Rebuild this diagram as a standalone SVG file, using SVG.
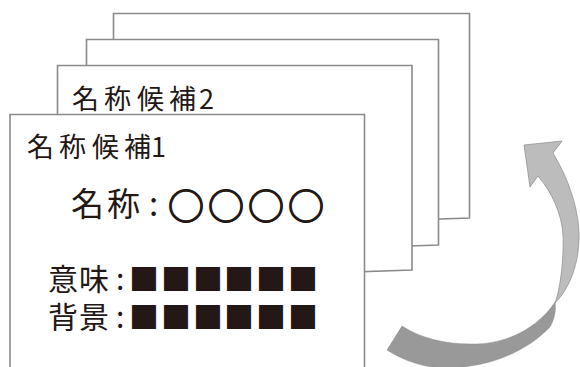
<svg xmlns="http://www.w3.org/2000/svg" width="580" height="367" viewBox="0 0 580 367">
<style>
.card{fill:#fff;stroke:#8a8a8a;stroke-width:1.6;stroke-linejoin:miter}
.t{font-family:"Noto Sans CJK JP","Noto Sans CJK SC",sans-serif;fill:#231815}
</style>
<rect width="580" height="367" fill="#fff"/>
<g id="card4"><polygon class="card" points="113.5,13.5 469.5,13.5 469.5,218 113.5,230"/></g>
<g id="card3"><polygon class="card" points="86.5,39.5 438.5,39.5 438.5,245 86.5,257"/></g>
<g id="card2">
<polygon class="card" points="57.5,65.5 412,65.5 412,270 57.5,282"/>
<text class="t" font-size="27" y="109" x="72 104 137 169 199">名称候補2</text>
</g>
<g id="card1">
<polygon class="card" points="10,114.5 364.5,114.5 364.5,372 10,372"/>
<text class="t" font-size="27" y="157" x="27 59 92 124 151">名称候補1</text>
<text class="t" font-size="33" y="216" x="71 107 149">名称:</text>
<text class="t" font-size="36" y="220" x="168 208 248 288" stroke="#231815" stroke-width="1.4">○○○○</text>
<text class="t" font-size="30"><tspan y="290" x="48 79 116 129 161 193 224 256 288">意味:■■■■■■</tspan><tspan y="328" x="48 79 116 129 161 193 224 256 288">背景:■■■■■■</tspan></text>
</g>
<g id="connectors">
<path d="M555,302 C540,325 510,345 470,344 C445,344 420,338 402,326 L387,350 C410,365 440,372 470,366 C500,362 530,348 550,327 C555,318 556,310 555,302 Z" fill="#999999" stroke="#8a8a8a" stroke-width="0.5"/>
<path d="M538,176 L530,187 L524,145 L562,141 L553,153 C568,178 580,210 579,240 C578,268 568,290 555,303 C560,290 564,260 563,235 C562,215 552,192 538,176 Z" fill="#bcbcbc" stroke="#8a8a8a" stroke-width="0.7"/>
</g>
</svg>
